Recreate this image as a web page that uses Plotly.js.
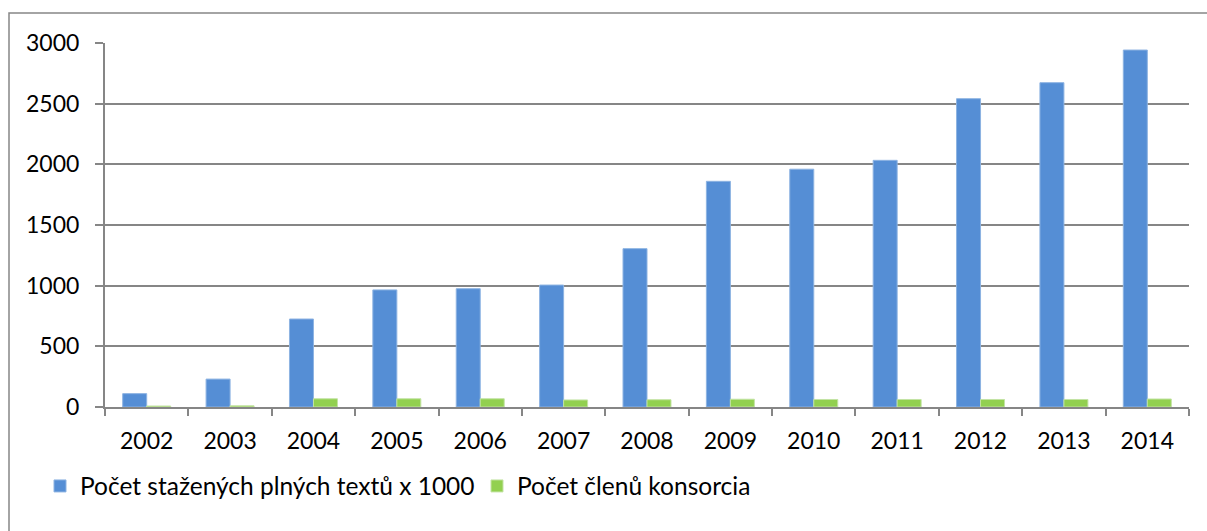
<!DOCTYPE html>
<html>
<head>
<meta charset="utf-8">
<script src="https://cdn.plot.ly/plotly-3.0.1.min.js"></script>
<style>
html,body{margin:0;padding:0;background:#fff;}
#chart{width:1207px;height:531px;}
</style>
</head>
<body>
<div id="chart"></div>
<script>
const years = ["2002","2003","2004","2005","2006","2007","2008","2009","2010","2011","2012","2013","2014"];
const downloads = [110, 230, 725, 965, 975, 1005, 1305, 1860, 1960, 2033, 2541, 2673, 2942];
const members = [8, 10, 68, 68, 68, 58, 60, 64, 62, 62, 62, 62, 66];
const seriesNames = ["Počet stažených plných textů x 1000", "Počet členů konsorcia"];
const yTicks = [0, 500, 1000, 1500, 2000, 2500, 3000];

const font = {family: "Lato, 'Open Sans', sans-serif", size: 23, color: "#000"};
const legendFont = {family: "Lato, 'Open Sans', sans-serif", size: 24.5, color: "#000"};
const gray = "#868686";

const data = [
  {type: "bar", x: years, y: downloads, name: seriesNames[0],
   marker: {color: "#558ED5", line: {color: "#8DB3E2", width: 1}}},
  {type: "bar", x: years, y: members, name: seriesNames[1],
   marker: {color: "#92D050", line: {color: "#C3E3A4", width: 1}}}
];

const L = 105, R = 18, T = 43, B = 124;
const pw = 1207 - L - R, ph = 531 - T - B;

const layout = {
  width: 1207, height: 531,
  margin: {l: L, r: R, t: T, b: B, pad: 0},
  paper_bgcolor: "#fff", plot_bgcolor: "#fff",
  font: font,
  barmode: "group", bargap: 0.4245, bargroupgap: 0,
  showlegend: true,
  legend: {orientation: "h", x: (40 - L) / pw, xanchor: "left", y: (T + ph - 486) / ph, yanchor: "middle",
           font: legendFont, bgcolor: "rgba(0,0,0,0)", traceorder: "normal",
           entrywidth: 392, entrywidthmode: "pixels"},
  xaxis: {type: "category", showline: true, linecolor: gray, linewidth: 2,
          ticks: "outside", tickson: "boundaries", ticklen: 7, tickcolor: gray, tickwidth: 2,
          ticklabelstandoff: 12,
          showgrid: false, tickfont: font, fixedrange: true},
  yaxis: {range: [0, 3000], tickvals: yTicks, ticktext: yTicks.map(String),
          showline: true, linecolor: gray, linewidth: 2,
          ticks: "outside", ticklen: 8, tickcolor: gray, tickwidth: 2,
          ticklabelstandoff: 11,
          showgrid: true, gridcolor: gray, gridwidth: 2, zeroline: false,
          tickfont: font, fixedrange: true},
  shapes: [{type: "rect", xref: "paper", yref: "paper",
            x0: (9 - L) / pw, x1: (1230 - L) / pw,
            y0: (T + ph - 560) / ph, y1: (T + ph - 13) / ph,
            line: {color: gray, width: 1.5}, fillcolor: "rgba(0,0,0,0)", layer: "below"}]
};

Plotly.newPlot("chart", data, layout, {displayModeBar: false, staticPlot: true});
</script>
</body>
</html>
